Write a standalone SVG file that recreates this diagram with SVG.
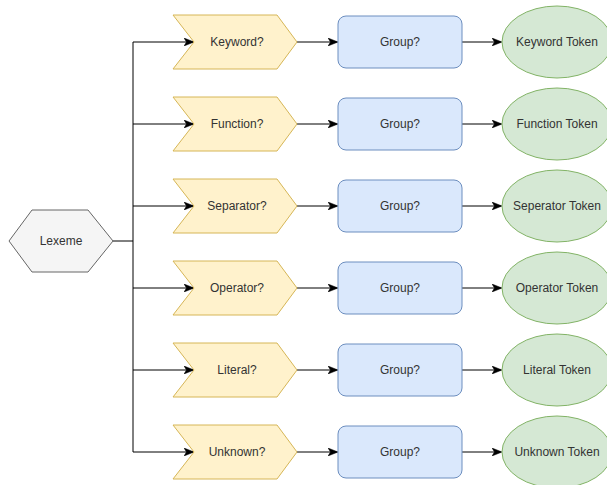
<svg xmlns="http://www.w3.org/2000/svg" width="607" height="485" viewBox="0 0 607 485">
<style>
.bg{fill:#ffffff}
.hex{fill:#f5f5f5;stroke:#666666;stroke-width:1}
.chev{fill:#fff2cc;stroke:#d6b656;stroke-width:1}
.grp{fill:#dae8fc;stroke:#6c8ebf;stroke-width:1}
.tok{fill:#d5e8d4;stroke:#82b366;stroke-width:1}
.t{font-family:"Liberation Sans",Arial,sans-serif;font-size:12px;fill:#333333;text-anchor:middle;dominant-baseline:central}
.c{fill:none;stroke:#000000;stroke-width:1}
.a{fill:none;stroke:#000000;stroke-width:1;marker-end:url(#arr)}
</style>
<defs>
<marker id="arr" viewBox="0 0 10 8" refX="9" refY="4" markerWidth="10" markerHeight="8" markerUnits="userSpaceOnUse" orient="auto">
<path d="M0,0 L10,4 L0,8 L2.5,4 Z" fill="#000000" stroke="#000000" stroke-width="0.5"/>
</marker>
</defs>
<rect class="bg" x="0" y="0" width="607" height="485"/>
<g id="connectors">
<path class="c" d="M113,241 H133"/>
<path class="c" d="M133,42 V452"/>
<path class="a" d="M133,42 H193"/>
<path class="a" d="M133,124 H193"/>
<path class="a" d="M133,206 H193"/>
<path class="a" d="M133,288 H193"/>
<path class="a" d="M133,370 H193"/>
<path class="a" d="M133,452 H193"/>
<path class="a" d="M297,42 H337"/>
<path class="a" d="M297,124 H337"/>
<path class="a" d="M297,206 H337"/>
<path class="a" d="M297,288 H337"/>
<path class="a" d="M297,370 H337"/>
<path class="a" d="M297,452 H337"/>
<path class="a" d="M462,42 H501"/>
<path class="a" d="M462,124 H501"/>
<path class="a" d="M462,206 H501"/>
<path class="a" d="M462,288 H501"/>
<path class="a" d="M462,370 H501"/>
<path class="a" d="M462,452 H501"/>
</g>
<g id="lexeme">
<polygon class="hex" points="9,241 32,210 88,210 113,241 88,272 32,272"/>
<text class="t" x="61" y="241">Lexeme</text>
</g>
<g id="keyword-check">
<polygon class="chev" points="173,15 277,15 297,42 277,69 173,69 194,42"/>
<text class="t" x="237" y="42">Keyword?</text>
</g>
<g id="function-check">
<polygon class="chev" points="173,97 277,97 297,124 277,151 173,151 194,124"/>
<text class="t" x="237" y="124">Function?</text>
</g>
<g id="separator-check">
<polygon class="chev" points="173,179 277,179 297,206 277,233 173,233 194,206"/>
<text class="t" x="237" y="206">Separator?</text>
</g>
<g id="operator-check">
<polygon class="chev" points="173,261 277,261 297,288 277,315 173,315 194,288"/>
<text class="t" x="237" y="288">Operator?</text>
</g>
<g id="literal-check">
<polygon class="chev" points="173,343 277,343 297,370 277,397 173,397 194,370"/>
<text class="t" x="237" y="370">Literal?</text>
</g>
<g id="unknown-check">
<polygon class="chev" points="173,425 277,425 297,452 277,479 173,479 194,452"/>
<text class="t" x="237" y="452">Unknown?</text>
</g>
<g id="group-1"><rect class="grp" x="338" y="16" width="124" height="52" rx="8"/><text class="t" x="400" y="42">Group?</text></g>
<g id="group-2"><rect class="grp" x="338" y="98" width="124" height="52" rx="8"/><text class="t" x="400" y="124">Group?</text></g>
<g id="group-3"><rect class="grp" x="338" y="180" width="124" height="52" rx="8"/><text class="t" x="400" y="206">Group?</text></g>
<g id="group-4"><rect class="grp" x="338" y="262" width="124" height="52" rx="8"/><text class="t" x="400" y="288">Group?</text></g>
<g id="group-5"><rect class="grp" x="338" y="344" width="124" height="52" rx="8"/><text class="t" x="400" y="370">Group?</text></g>
<g id="group-6"><rect class="grp" x="338" y="426" width="124" height="52" rx="8"/><text class="t" x="400" y="452">Group?</text></g>
<g id="keyword-token"><ellipse class="tok" cx="557" cy="42" rx="55" ry="36"/><text class="t" x="557" y="42">Keyword Token</text></g>
<g id="function-token"><ellipse class="tok" cx="557" cy="124" rx="55" ry="36"/><text class="t" x="557" y="124">Function Token</text></g>
<g id="separator-token"><ellipse class="tok" cx="557" cy="206" rx="55" ry="36"/><text class="t" x="557" y="206">Seperator Token</text></g>
<g id="operator-token"><ellipse class="tok" cx="557" cy="288" rx="55" ry="36"/><text class="t" x="557" y="288">Operator Token</text></g>
<g id="literal-token"><ellipse class="tok" cx="557" cy="370" rx="55" ry="36"/><text class="t" x="557" y="370">Literal Token</text></g>
<g id="unknown-token"><ellipse class="tok" cx="557" cy="452" rx="55" ry="36"/><text class="t" x="557" y="452">Unknown Token</text></g>
</svg>
